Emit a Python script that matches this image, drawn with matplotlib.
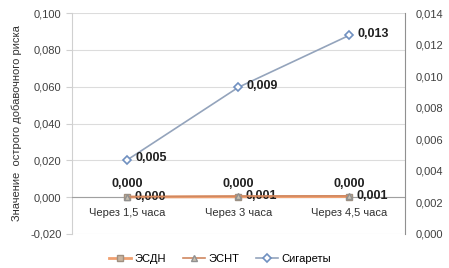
import matplotlib
matplotlib.use('Agg')
import matplotlib.pyplot as plt
from matplotlib.ticker import FuncFormatter, MultipleLocator

plt.rcParams['font.family'] = ['Liberation Sans', 'DejaVu Sans']

categories = ['Через 1,5 часа', 'Через 3 часа', 'Через 4,5 часа']
esdn = [0.0001, 0.0002, 0.0003]
esnt = [0.0002, 0.0006, 0.0007]
cigs = [0.0047, 0.0093, 0.0126]


def comma(v, pos=None):
    return f'{v:.3f}'.replace('.', ',').replace('-0,000', '0,000')


fig = plt.figure(figsize=(4.49, 2.68), dpi=100)
ax = fig.add_axes([0.160, 0.127, 0.742, 0.824])
ax2 = ax.twinx()

x = range(len(categories))
l1, = ax.plot(x, esdn, color='#f0a070', lw=2, marker='s', ms=5,
              mfc='#c8b4a0', mec='#a09080', zorder=3)
l2, = ax.plot(x, esnt, color='#d08860', lw=1.2, marker='^', ms=5,
              mfc='#c8c0b0', mec='#909090', zorder=4)
l3, = ax2.plot(x, cigs, color='#94a4bc', lw=1.2, marker='D', ms=4,
               mfc='white', mec='#7090c0', mew=1.2, zorder=3)

ax.set_xlim(-0.5, 2.5)
ax.set_ylim(-0.02, 0.1)
ax2.set_ylim(0, 0.014)
ax.yaxis.set_major_locator(MultipleLocator(0.02))
ax2.yaxis.set_major_locator(MultipleLocator(0.002))
ax.yaxis.set_major_formatter(FuncFormatter(comma))
ax2.yaxis.set_major_formatter(FuncFormatter(comma))

ax.grid(axis='y', color='#dcdcdc', lw=0.8)
ax.set_axisbelow(True)
for s in ['top', 'right']:
    ax.spines[s].set_visible(False)
for s in ['top', 'left', 'bottom']:
    ax2.spines[s].set_visible(False)
ax.spines['left'].set_color('#d0d0d0')
ax2.spines['right'].set_color('#909090')
ax.spines['bottom'].set_position(('data', 0))
ax.spines['bottom'].set_color('#a0a0a0')

ax.set_xticks(list(x))
ax.set_xticklabels(categories, fontsize=8, color='#303030')
ax.tick_params(axis='x', length=0, pad=8)
ax.tick_params(axis='y', labelsize=8, colors='#404040', length=4, color='#d0d0d0')
ax2.tick_params(axis='y', labelsize=8, colors='#404040', length=0, pad=8)

ax.set_ylabel('Значение  острого добавочного риска', fontsize=8, color='#303030', labelpad=6)

for i in x:
    ax.annotate(comma(esdn[i]), (i, esdn[i]), xytext=(0, 5), textcoords='offset points',
                ha='center', va='bottom', fontsize=9, fontweight='bold', color='#202020')
    ax.annotate(comma(esnt[i]), (i, esnt[i]), xytext=(5, 0), textcoords='offset points',
                ha='left', va='center', fontsize=9, fontweight='bold', color='#202020')
    ax2.annotate(comma(cigs[i]), (i, cigs[i]), xytext=(6, 1), textcoords='offset points',
                 ha='left', va='center', fontsize=9, fontweight='bold', color='#202020')

fig.legend([l1, l2, l3], ['ЭСДН', 'ЭСНТ', 'Сигареты'], loc='center',
           bbox_to_anchor=(0.49, 0.034), ncol=3, frameon=False, fontsize=8,
           handlelength=2.0, columnspacing=1.5, handletextpad=0.3, markerscale=0.9)

fig.savefig('out.png', dpi=100)
